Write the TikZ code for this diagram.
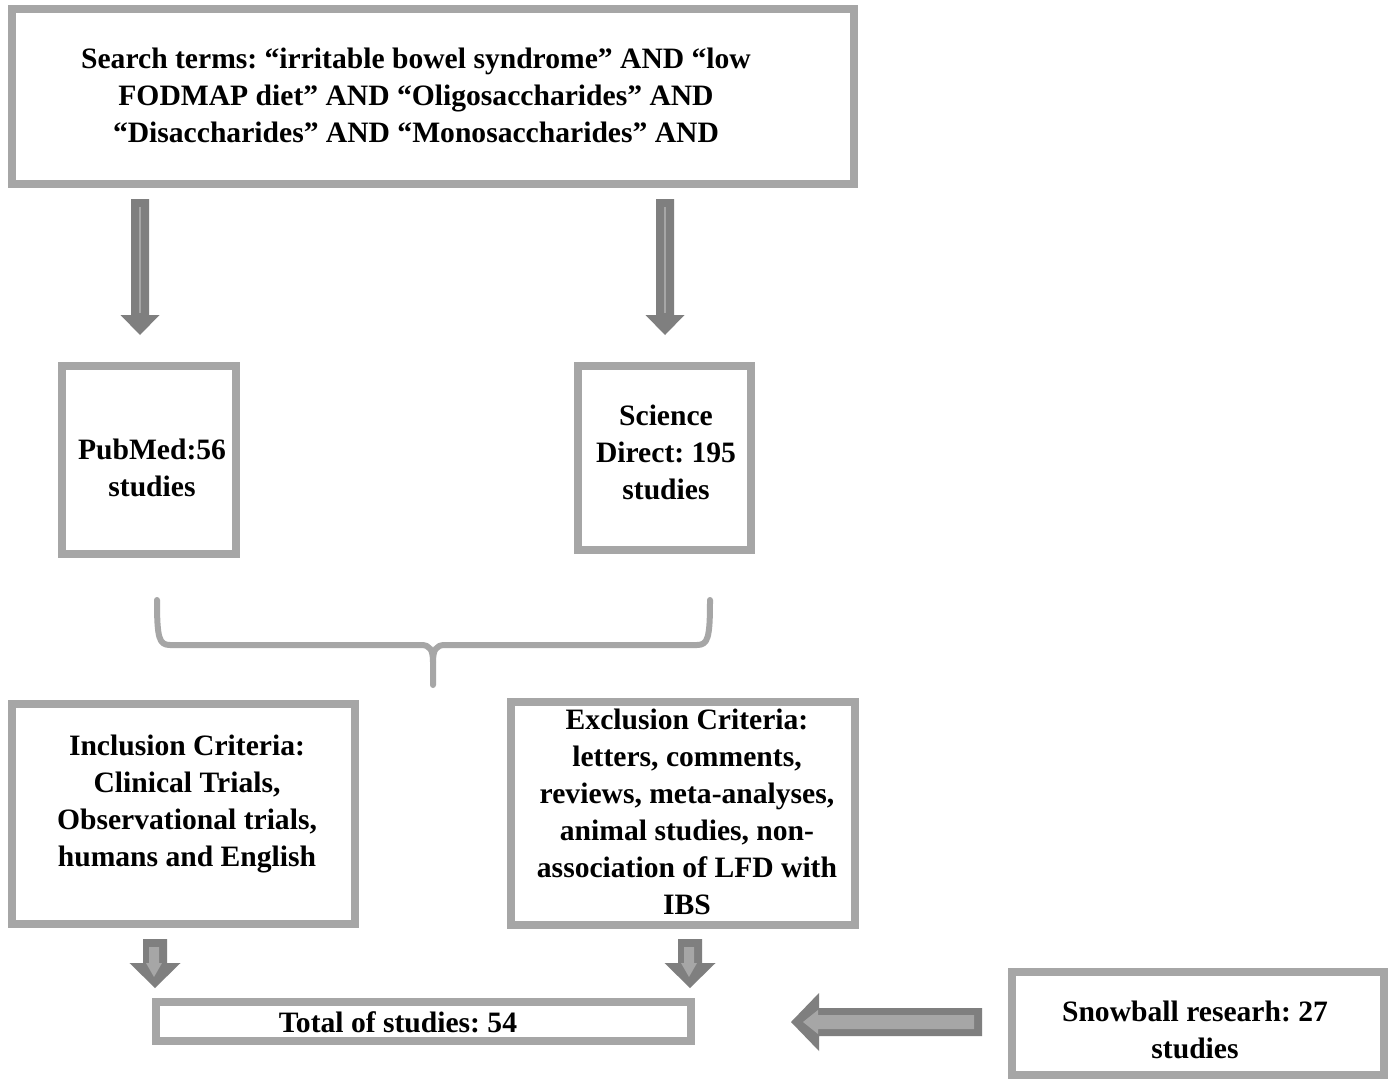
\documentclass[tikz,border=0pt]{standalone}
\usepackage{fontspec}
\setmainfont{Liberation Serif}
\frenchspacing
\begin{document}
\begin{tikzpicture}[x=1pt,y=-1pt,
  box/.style={draw=boxgray, line width=8pt, inner sep=0pt, fill=white},
  txt/.style={font=\bfseries\fontsize{29.6}{37}\selectfont, align=center, inner sep=0pt},
  darkfill/.style={fill=arrdark},
  lightfill/.style={fill=boxgray},
  bracestyle/.style={draw=boxgray, line width=6pt, line cap=round, line join=round}]
\definecolor{boxgray}{HTML}{A6A6A6}
\definecolor{arrdark}{HTML}{7F7F7F}
\useasboundingbox (0,0) rectangle (1392,1079);
\fill[white] (0,0) rectangle (1392,1079);

% boxes
\node[box, minimum width=842pt, minimum height=175pt] (top) at (433,96.5) {};
\node[box, minimum width=174pt, minimum height=188pt] (pub) at (149,460) {};
\node[box, minimum width=173pt, minimum height=184pt] (sci) at (664.5,458) {};
\node[box, minimum width=343pt, minimum height=220pt] (inc) at (183.5,814) {};
\node[box, minimum width=344pt, minimum height=223pt] (exc) at (683,813.5) {};
\node[box, minimum width=535pt, minimum height=39pt] (tot) at (423.5,1021.5) {};
\node[box, minimum width=372pt, minimum height=103pt] (snow) at (1198,1023.5) {};

% texts
\node[txt] (toptxt) at (416,95) {Search terms: “irritable bowel syndrome” AND “low\\FODMAP diet” AND “Oligosaccharides” AND\\“Disaccharides” AND “Monosaccharides” AND};
\node[txt] (pubtxt) at (152,468) {PubMed:56\\studies};
\node[txt] (scitxt) at (666,452) {Science\\Direct: 195\\studies};
\node[txt] (inctxt) at (187,804) {Inclusion Criteria:\\Clinical Trials,\\Observational trials,\\humans and English};
\node[txt] (exctxt) at (687,812) {Exclusion Criteria:\\letters, comments,\\reviews, meta-analyses,\\animal studies, non-\\association of LFD with\\IBS};
\node[txt] (tottxt) at (398,1022) {Total of studies: 54};
\node[txt] (snowtxt) at (1195,1030) {Snowball researh: 27\\studies};

% big down arrows
\foreach \c in {140,665} {
  \fill[darkfill] (\c-9,199) -- (\c+9,199) -- (\c+9,315) -- (\c+19.5,315) -- (\c,335) -- (\c-19.5,315) -- (\c-9,315) -- cycle;
  \fill[lightfill] (\c-1,207) rectangle (\c+1,313);
}

% small down arrows
\foreach \c in {155,690} {
  \fill[darkfill] (\c-12,939) -- (\c+12,939) -- (\c+12,963) -- (\c+25.5,963) -- (\c,988) -- (\c-25.5,963) -- (\c-12,963) -- cycle;
  \fill[lightfill] (\c-6,947) -- (\c+4,947) -- (\c+4,963) -- (\c+7,963) -- (\c-1,977) -- (\c-9,963) -- (\c-6,963) -- cycle;
}

% left arrow
\fill[darkfill] (982,1008) -- (982,1036) -- (819,1036) -- (819,1051) -- (791,1022) -- (819,993) -- (819,1008) -- cycle;
\fill[lightfill] (974,1015) -- (974,1029) -- (818,1029) -- (818,1034) -- (803,1022) -- (818,1010) -- (818,1015) -- cycle;

% brace
\coordinate (bl) at (157,600);
\coordinate (br) at (710,600);
\coordinate (bs) at (433,685);
\draw[bracestyle] (bl) .. controls (157,638) and (159,645) .. (170,645) -- (421,645)
  .. controls (430,645) and (433,650) .. (433,662) -- (bs);
\draw[bracestyle] (br) .. controls (710,638) and (708,645) .. (697,645) -- (445,645)
  .. controls (436,645) and (433,650) .. (433,662);
\end{tikzpicture}
\end{document}
